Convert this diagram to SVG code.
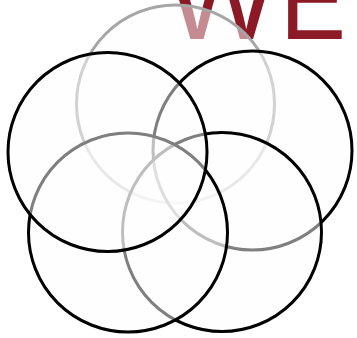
<svg xmlns="http://www.w3.org/2000/svg" width="357" height="338" viewBox="0 0 357 338">
<style>
.ring{fill:#fdfdfd;fill-opacity:0.5;stroke:#000;stroke-width:3}
.ring-top{stroke:#a6a6a6}
.logo{font-family:"Liberation Sans",Arial,sans-serif;fill:#8b1a26}
</style>
<rect width="357" height="338" fill="#fff"/>
<g id="logo-text">
<text class="logo" x="0" y="0" font-size="118" transform="translate(166,39)">W</text>
<text class="logo" x="0" y="0" font-size="115" transform="translate(280,39) scale(0.86,1)">E</text>
</g>
<g id="circle-top"><circle class="ring ring-top" cx="175.5" cy="104" r="99"/></g>
<g id="circle-right"><circle class="ring" cx="252.5" cy="150.5" r="99.5"/></g>
<g id="circle-bottom-right"><circle class="ring" cx="222" cy="232" r="99.5"/></g>
<g id="circle-bottom-left"><circle class="ring" cx="128" cy="232.5" r="99.5"/></g>
<g id="circle-left"><circle class="ring" cx="107.5" cy="152" r="99.5"/></g>
<g id="connectors"></g>
</svg>
